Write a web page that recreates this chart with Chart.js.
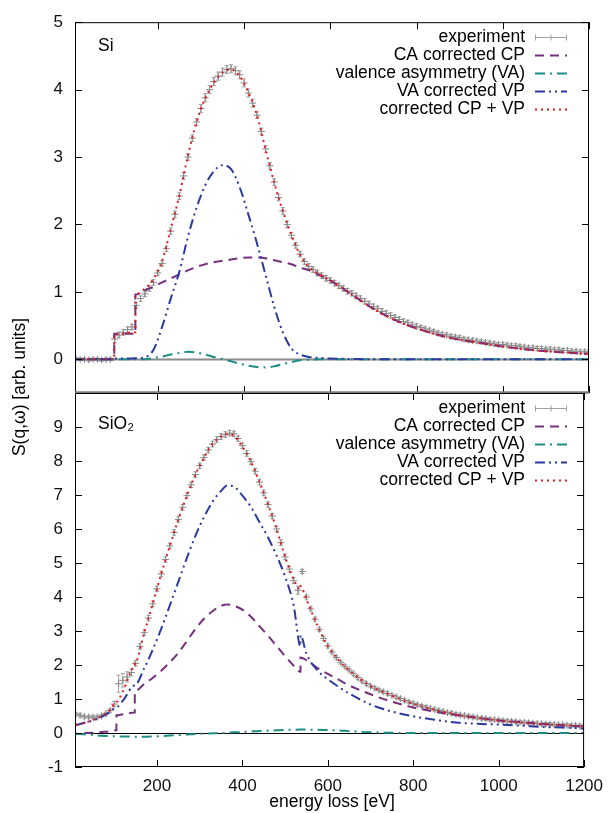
<!DOCTYPE html>
<html>
<head>
<meta charset="utf-8">
<script src="https://cdn.jsdelivr.net/npm/chart.js@4.4.1/dist/chart.umd.min.js"></script>
<style>
  html, body { margin: 0; padding: 0; background: #fff; }
  #wrap { position: relative; width: 612px; height: 813px; }
  canvas { position: absolute; left: 0; top: 0; }
</style>
</head>
<body>
<div id="wrap">
  <canvas id="siChart" width="612" height="813"></canvas>
  <canvas id="sio2Chart" width="612" height="813"></canvas>
</div>
<script>
// --- tick labels ---
const energyTicks = [200, 400, 600, 800, 1000, 1200];
const siTicks = [0, 1, 2, 3, 4, 5];
const sio2Ticks = [-1, 0, 1, 2, 3, 4, 5, 6, 7, 8, 9];
const legendLabels = ['experiment', 'CA corrected CP', 'valence asymmetry (VA)', 'VA corrected VP', 'corrected CP + VP'];

// --- experiment energies (eV) ---
const expEnergy = [
  10, 20, 30, 40, 50, 60, 70, 80, 90, 100,
  110, 120, 130, 140, 150, 160, 170, 180, 190, 200,
  210, 220, 230, 240, 250, 260, 270, 280, 290, 300,
  310, 320, 330, 340, 350, 360, 370, 380, 390, 400,
  410, 420, 430, 440, 450, 460, 470, 480, 490, 500,
  510, 520, 530, 540, 550, 560, 570, 580, 590, 600,
  610, 620, 630, 640, 650, 660, 670, 680, 690, 700,
  710, 720, 730, 740, 750, 760, 770, 780, 790, 800,
  810, 820, 830, 840, 850, 860, 870, 880, 890, 900,
  910, 920, 930, 940, 950, 960, 970, 980, 990, 1000,
  1010, 1020, 1030, 1040, 1050, 1060, 1070, 1080, 1090, 1100,
  1110, 1120, 1130, 1140, 1150, 1160, 1170, 1180, 1190, 1200
];

// --- Si: experiment ---
const siExp = [
  0.01, 0.00, 0.00, -0.01, 0.00, 0.00, -0.01, 0.00, 0.00, 0.30,
  0.36, 0.40, 0.44, 0.48, 0.80, 0.90, 0.97, 1.05, 1.14, 1.28,
  1.42, 1.64, 1.90, 2.15, 2.42, 2.72, 3.00, 3.28, 3.52, 3.72,
  3.88, 4.00, 4.12, 4.20, 4.26, 4.30, 4.31, 4.28, 4.22, 4.10,
  3.95, 3.80, 3.62, 3.38, 3.12, 2.87, 2.63, 2.40, 2.20, 2.00,
  1.84, 1.69, 1.56, 1.45, 1.38, 1.33, 1.28, 1.24, 1.20, 1.17,
  1.13, 1.09, 1.05, 1.01, 0.98, 0.94, 0.90, 0.86, 0.82, 0.78,
  0.75, 0.71, 0.68, 0.65, 0.62, 0.59, 0.56, 0.54, 0.51, 0.49,
  0.47, 0.45, 0.43, 0.41, 0.39, 0.37, 0.36, 0.34, 0.33, 0.32,
  0.30, 0.29, 0.28, 0.27, 0.26, 0.25, 0.24, 0.23, 0.22, 0.22,
  0.21, 0.20, 0.20, 0.19, 0.18, 0.17, 0.17, 0.16, 0.16, 0.15,
  0.15, 0.14, 0.14, 0.13, 0.13, 0.12, 0.12, 0.11, 0.11, 0.11
];
const siExpErr = [
  0.02, 0.02, 0.02, 0.02, 0.02, 0.02, 0.02, 0.02, 0.02, 0.05,
  0.04, 0.04, 0.04, 0.04, 0.04, 0.04, 0.04, 0.04, 0.04, 0.04,
  0.04, 0.04, 0.05, 0.05, 0.05, 0.05, 0.05, 0.05, 0.05, 0.06,
  0.06, 0.06, 0.06, 0.06, 0.06, 0.06, 0.06, 0.06, 0.06, 0.06,
  0.06, 0.06, 0.05, 0.05, 0.05, 0.05, 0.05, 0.05, 0.05, 0.05,
  0.04, 0.04, 0.04, 0.04, 0.04, 0.04, 0.04, 0.04, 0.04, 0.04,
  0.04, 0.04, 0.04, 0.04, 0.04, 0.04, 0.04, 0.04, 0.04, 0.04,
  0.04, 0.04, 0.04, 0.04, 0.04, 0.04, 0.04, 0.04, 0.04, 0.04,
  0.03, 0.03, 0.03, 0.03, 0.03, 0.03, 0.03, 0.03, 0.03, 0.03,
  0.03, 0.03, 0.03, 0.03, 0.03, 0.03, 0.03, 0.03, 0.03, 0.03,
  0.03, 0.03, 0.03, 0.03, 0.03, 0.03, 0.03, 0.03, 0.03, 0.03,
  0.03, 0.03, 0.03, 0.03, 0.03, 0.03, 0.03, 0.03, 0.03, 0.03
];

// --- Si: model curves ---
const siE = [8, 30, 60, 90, 99, 99, 120, 148, 148,
  170, 190, 210, 230, 250, 270, 290, 310, 330, 350, 370, 390, 410, 430, 450, 470, 490, 510, 530, 550,
  575, 600, 650, 700, 750, 800, 850, 900, 950, 1000, 1050, 1100, 1150, 1200];
const siCP = [0, 0, 0, 0, 0, 0.38, 0.38, 0.38, 0.96,
  1.02, 1.08, 1.14, 1.20, 1.26, 1.32, 1.37, 1.41, 1.44, 1.46, 1.48, 1.50, 1.51, 1.51, 1.50, 1.47, 1.44, 1.41, 1.36, 1.32,
  1.25, 1.17, 0.96, 0.75, 0.58, 0.46, 0.36, 0.29, 0.24, 0.19, 0.15, 0.12, 0.10, 0.08];
const siVA = [0, 0, 0, 0, 0, 0, 0, 0, 0,
  0.0, 0.02, 0.04, 0.07, 0.095, 0.11, 0.10, 0.07, 0.035, 0.005, -0.03, -0.065, -0.095, -0.115, -0.12, -0.105, -0.07, -0.04, -0.015, -0.005,
  0, 0, 0, 0, 0, 0, 0, 0, 0, 0, 0, 0, 0, 0];
const siVP = [0, 0, 0, 0, 0.01, 0.01, 0.01, 0.015, 0.015,
  0.03, 0.14, 0.48, 0.90, 1.30, 1.82, 2.25, 2.58, 2.79, 2.88, 2.82, 2.55, 2.15, 1.72, 1.25, 0.78, 0.40, 0.16, 0.07, 0.035,
  0.02, 0.01, 0.005, 0, 0, 0, 0, 0, 0, 0, 0, 0, 0, 0];
const siTotal = [0, 0, 0, 0, 0, 0.37, 0.38, 0.40, 0.96,
  1.05, 1.19, 1.46, 1.93, 2.43, 3.02, 3.52, 3.87, 4.10, 4.25, 4.30, 4.20, 3.96, 3.62, 3.11, 2.62, 2.20, 1.84, 1.55, 1.37,
  1.26, 1.17, 0.96, 0.75, 0.58, 0.46, 0.36, 0.29, 0.24, 0.19, 0.15, 0.12, 0.10, 0.08];

// --- SiO2: experiment ---
const sio2Exp = [
  0.55, 0.52, 0.48, 0.47, 0.47, 0.47, 0.50, 0.56, 0.66, 0.85,
  1.45, 1.55, 1.65, 1.78, 2.05, 2.55, 2.95, 3.38, 3.80, 4.24,
  4.68, 5.10, 5.50, 5.90, 6.28, 6.64, 6.98, 7.30, 7.60, 7.86,
  8.10, 8.32, 8.50, 8.63, 8.72, 8.78, 8.82, 8.80, 8.66, 8.45,
  8.22, 7.98, 7.70, 7.38, 7.06, 6.72, 6.38, 6.00, 5.60, 5.18,
  4.82, 4.48, 4.20, 4.75, 4.00, 3.65, 3.35, 3.05, 2.78, 2.56,
  2.38, 2.22, 2.08, 1.96, 1.85, 1.74, 1.63, 1.53, 1.45, 1.38,
  1.32, 1.26, 1.21, 1.16, 1.11, 1.06, 1.01, 0.96, 0.91, 0.87,
  0.83, 0.79, 0.76, 0.72, 0.69, 0.66, 0.63, 0.60, 0.58, 0.55,
  0.53, 0.51, 0.49, 0.47, 0.45, 0.43, 0.42, 0.40, 0.39, 0.38,
  0.36, 0.35, 0.34, 0.33, 0.32, 0.31, 0.30, 0.29, 0.28, 0.27,
  0.26, 0.26, 0.25, 0.24, 0.24, 0.23, 0.22, 0.22, 0.21, 0.21
];
const sio2ExpErr = [
  0.05, 0.05, 0.05, 0.05, 0.05, 0.05, 0.05, 0.05, 0.05, 0.08,
  0.25, 0.20, 0.15, 0.10, 0.08, 0.08, 0.08, 0.08, 0.08, 0.08,
  0.08, 0.08, 0.08, 0.08, 0.08, 0.08, 0.08, 0.08, 0.08, 0.08,
  0.08, 0.08, 0.08, 0.08, 0.08, 0.08, 0.08, 0.08, 0.08, 0.08,
  0.08, 0.08, 0.08, 0.08, 0.08, 0.08, 0.08, 0.08, 0.08, 0.08,
  0.08, 0.08, 0.12, 0.06, 0.06, 0.06, 0.06, 0.06, 0.06, 0.06,
  0.05, 0.05, 0.05, 0.05, 0.05, 0.05, 0.05, 0.05, 0.05, 0.05,
  0.05, 0.05, 0.05, 0.05, 0.05, 0.05, 0.05, 0.05, 0.05, 0.05,
  0.05, 0.05, 0.05, 0.05, 0.05, 0.05, 0.05, 0.05, 0.05, 0.05,
  0.05, 0.05, 0.05, 0.05, 0.05, 0.05, 0.05, 0.05, 0.05, 0.05,
  0.05, 0.05, 0.05, 0.05, 0.05, 0.05, 0.05, 0.05, 0.05, 0.05,
  0.05, 0.05, 0.05, 0.05, 0.05, 0.05, 0.05, 0.05, 0.05, 0.05
];

// --- SiO2: model curves ---
const sio2E = [10, 30, 50, 70, 90, 105, 105, 120, 148, 148,
  170, 190, 210, 230, 250, 270, 290, 310, 330, 350, 365, 380,
  400, 420, 440, 460, 480, 500, 520, 536, 536,
  550, 575, 600, 625, 650, 700, 750, 800, 850, 900, 950, 1000, 1050, 1100, 1150, 1200];
const sio2CP = [null, 0.0, 0.01, 0.03, 0.05, 0.08, 0.52, 0.55, 0.60, 1.23,
  1.44, 1.62, 1.83, 2.08, 2.36, 2.70, 3.06, 3.36, 3.58, 3.74, 3.78, 3.74,
  3.63, 3.42, 3.14, 2.86, 2.56, 2.26, 1.98, 1.80, 2.22,
  2.14, 1.92, 1.74, 1.57, 1.40, 1.14, 0.92, 0.75, 0.63, 0.53, 0.45, 0.37, 0.32, 0.27, 0.23, 0.19];
const sio2VA = [-0.02, -0.04, -0.06, -0.08, -0.09, -0.10, -0.10, -0.10, -0.11, -0.11,
  -0.11, -0.10, -0.09, -0.075, -0.06, -0.045, -0.03, -0.02, -0.01, 0.0, 0.01, 0.02,
  0.03, 0.045, 0.06, 0.07, 0.08, 0.09, 0.095, 0.10, 0.10,
  0.10, 0.095, 0.085, 0.075, 0.055, 0.02, 0.005, 0, 0, 0, 0, 0, 0, 0, 0, 0];
const sio2VP = [0.23, 0.30, 0.37, 0.48, 0.62, 0.76, 0.76, 0.95, 1.40, 1.40,
  1.90, 2.45, 3.07, 3.75, 4.45, 5.15, 5.80, 6.35, 6.80, 7.12, 7.28, 7.25,
  6.98, 6.65, 6.20, 5.75, 5.22, 4.60, 3.75, 2.55, 2.88,
  2.33, 1.85, 1.58, 1.36, 1.16, 0.84, 0.63, 0.49, 0.39, 0.31, 0.27, 0.25, 0.22, 0.18, 0.16, 0.13];
const sio2Total = [0.24, 0.30, 0.38, 0.50, 0.68, 0.92, 0.92, 1.22, 1.95, 2.05,
  2.95, 3.80, 4.68, 5.50, 6.28, 6.98, 7.60, 8.10, 8.50, 8.72, 8.79, 8.74,
  8.42, 7.98, 7.38, 6.72, 6.00, 5.18, 4.52, 4.22, 4.32,
  3.92, 3.18, 2.55, 2.15, 1.84, 1.38, 1.10, 0.86, 0.68, 0.54, 0.44, 0.37, 0.31, 0.26, 0.23, 0.20];

// --- styles ---
const FONT = '"Liberation Sans", Arial, Helvetica, sans-serif';
const GRAY = '#878787';
const PURPLE = '#76307f';
const TEAL = '#1d8c86';
const BLUE = '#2b3a9e';
const RED = '#e31a1c';

Chart.defaults.font.family = FONT;
Chart.defaults.font.size = 17;
Chart.defaults.color = '#111';

function toPoints(xs, ys) {
  return xs.map((x, i) => ({ x: x, y: ys[i] }));
}

function buildDatasets(exp, expErr, cp, va, vp, total, modelE) {
  return [
    {
      label: legendLabels[0], data: toPoints(expEnergy, exp), errors: expErr,
      showLine: false, pointStyle: 'cross', pointRadius: 3.5, borderWidth: 1,
      borderColor: GRAY, backgroundColor: GRAY, order: 5
    },
    {
      label: legendLabels[1], data: toPoints(modelE, cp), borderColor: PURPLE,
      borderWidth: 2, borderDash: [9, 6], pointRadius: 0, order: 4,
      cubicInterpolationMode: 'monotone'
    },
    {
      label: legendLabels[2], data: toPoints(modelE, va), borderColor: TEAL,
      borderWidth: 2, borderDash: [10, 5, 2, 5], pointRadius: 0, order: 3,
      cubicInterpolationMode: 'monotone'
    },
    {
      label: legendLabels[3], data: toPoints(modelE, vp), borderColor: BLUE,
      borderWidth: 2, borderDash: [10, 4, 2, 4, 2, 4], pointRadius: 0, order: 2,
      cubicInterpolationMode: 'monotone'
    },
    {
      label: legendLabels[4], data: toPoints(modelE, total), borderColor: RED,
      borderWidth: 2, borderDash: [2, 4], pointRadius: 0, order: 1,
      cubicInterpolationMode: 'monotone'
    }
  ];
}

// error bars drawn under the experiment crosses
const errorBarPlugin = {
  id: 'errorBars',
  beforeDatasetDraw(chart, args) {
    const ds = chart.data.datasets[args.index];
    if (!ds.errors) return;
    const { ctx, chartArea: a, scales: { y } } = chart;
    ctx.save();
    ctx.beginPath();
    ctx.rect(a.left, a.top, a.right - a.left, a.bottom - a.top);
    ctx.clip();
    ctx.strokeStyle = '#a0a0a0';
    ctx.lineWidth = 1;
    ctx.beginPath();
    args.meta.data.forEach((pt, j) => {
      const v = ds.data[j].y, e = ds.errors[j];
      const yt = y.getPixelForValue(v + e), yb = y.getPixelForValue(v - e);
      ctx.moveTo(pt.x, yt); ctx.lineTo(pt.x, yb);
      ctx.moveTo(pt.x - 2, yt); ctx.lineTo(pt.x + 2, yt);
      ctx.moveTo(pt.x - 2, yb); ctx.lineTo(pt.x + 2, yb);
    });
    ctx.stroke();
    ctx.restore();
  }
};

// gnuplot-like frame: border, inward ticks on all sides, zero line
const framePlugin = {
  id: 'frame',
  beforeDatasetsDraw(chart, args, opts) {
    const { ctx, chartArea: a, scales: { y } } = chart;
    const y0 = Math.round(y.getPixelForValue(0)) + 0.5;
    ctx.save();
    ctx.strokeStyle = opts.zeroColor;
    ctx.lineWidth = opts.zeroWidth;
    ctx.beginPath();
    ctx.moveTo(a.left, y0);
    ctx.lineTo(a.right, y0);
    ctx.stroke();
    ctx.restore();
  },
  afterDatasetsDraw(chart, args, opts) {
    const { ctx, chartArea: a, scales: { x, y } } = chart;
    const tl = 7;
    ctx.save();
    ctx.strokeStyle = '#000';
    ctx.lineWidth = 1;
    ctx.beginPath();
    ctx.moveTo(a.left + 0.5, a.bottom); ctx.lineTo(a.left + 0.5, a.top + 0.5);
    ctx.lineTo(a.right - 0.5, a.top + 0.5); ctx.lineTo(a.right - 0.5, a.bottom);
    x.ticks.forEach(t => {
      const px = Math.round(x.getPixelForValue(t.value)) + 0.5;
      ctx.moveTo(px, a.top); ctx.lineTo(px, a.top + tl);
      ctx.moveTo(px, a.bottom); ctx.lineTo(px, a.bottom - tl);
    });
    y.ticks.forEach(t => {
      const py = Math.round(y.getPixelForValue(t.value)) + 0.5;
      ctx.moveTo(a.left, py); ctx.lineTo(a.left + tl, py);
      ctx.moveTo(a.right, py); ctx.lineTo(a.right - tl, py);
    });
    ctx.stroke();
    ctx.beginPath();
    ctx.strokeStyle = opts.bottomColor;
    ctx.lineWidth = opts.bottomWidth;
    ctx.moveTo(a.left, a.bottom - 0.5);
    ctx.lineTo(a.right, a.bottom - 0.5);
    ctx.stroke();
    ctx.restore();
  }
};

// key in the upper right corner, samples on the right of the text
const keyPlugin = {
  id: 'key',
  afterDatasetsDraw(chart, args, opts) {
    const { ctx, chartArea: a } = chart;
    ctx.save();
    ctx.font = '17.5px ' + FONT;
    ctx.textAlign = 'right';
    ctx.textBaseline = 'middle';
    chart.data.datasets.forEach((ds, i) => {
      const yy = Math.round(a.top + opts.top + i * opts.step) + 0.5;
      ctx.fillStyle = '#000';
      ctx.fillText(ds.label, opts.textRight, yy);
      const x0 = opts.textRight + 10, x1 = x0 + 32;
      ctx.strokeStyle = ds.errors ? '#a0a0a0' : ds.borderColor;
      ctx.lineWidth = ds.errors ? 1 : ds.borderWidth;
      ctx.setLineDash(ds.errors ? [] : ds.borderDash);
      ctx.beginPath();
      ctx.moveTo(x0, yy); ctx.lineTo(x1, yy);
      if (ds.errors) {
        [x0 + 0.5, (x0 + x1) / 2, x1 - 0.5].forEach(tx => { ctx.moveTo(tx, yy - 3); ctx.lineTo(tx, yy + 3); });
      }
      ctx.stroke();
    });
    ctx.restore();
  }
};

const textPlugin = {
  id: 'texts',
  afterDraw(chart, args, opts) {
    const ctx = chart.ctx;
    ctx.save();
    ctx.fillStyle = '#000';
    ctx.font = '17.5px ' + FONT;
    opts.items.forEach(it => {
      ctx.save();
      ctx.translate(it.x, it.y);
      if (it.rotate) ctx.rotate(it.rotate);
      ctx.textAlign = it.align || 'left';
      ctx.textBaseline = 'middle';
      ctx.fillText(it.text, 0, 0);
      ctx.restore();
    });
    ctx.restore();
  }
};

function makeChart(id, cfg) {
  return new Chart(document.getElementById(id), {
    type: 'line',
    data: { datasets: cfg.datasets },
    plugins: [errorBarPlugin, framePlugin, keyPlugin, textPlugin],
    options: {
      responsive: false,
      animation: false,
      events: [],
      layout: { padding: { left: 0, right: 23, top: cfg.padTop, bottom: cfg.padBottom } },
      scales: {
        x: {
          type: 'linear', min: 8, max: 1200,
          grid: { display: false, drawTicks: false },
          border: { display: false },
          afterBuildTicks: s => { s.ticks = energyTicks.map(v => ({ value: v })); },
          afterFit: s => { s.height = cfg.xHeight; },
          ticks: { display: cfg.xLabels, padding: 9, maxRotation: 0, callback: v => String(v) }
        },
        y: {
          type: 'linear', min: cfg.yMin, max: cfg.yMax,
          grid: { display: false, drawTicks: false },
          border: { display: false },
          afterBuildTicks: s => { s.ticks = cfg.yTicks.map(v => ({ value: v })); },
          afterFit: s => { s.width = 75; },
          ticks: { padding: 12, callback: v => String(v) }
        }
      },
      plugins: {
        legend: { display: false },
        tooltip: { enabled: false },
        frame: cfg.frame,
        key: { top: 14.5, step: 18, textRight: 525 },
        texts: { items: cfg.texts }
      }
    }
  });
}

makeChart('siChart', {
  datasets: buildDatasets(siExp, siExpErr, siCP, siVA, siVP, siTotal, siE),
  padTop: 19, padBottom: 420, xHeight: 0, xLabels: false,
  yMin: -0.5, yMax: 5, yTicks: siTicks,
  frame: { zeroColor: '#8a8a8a', zeroWidth: 2, bottomColor: '#7d7d7d', bottomWidth: 2.5 },
  texts: [
    { text: 'Si', x: 98, y: 46 },
    { text: 'S(q,\u03c9) [arb. units]', x: 20, y: 387, rotate: -Math.PI / 2, align: 'center' }
  ]
});

makeChart('sio2Chart', {
  datasets: buildDatasets(sio2Exp, sio2ExpErr, sio2CP, sio2VA, sio2VP, sio2Total, sio2E),
  padTop: 393, padBottom: 0, xHeight: 46, xLabels: true,
  yMin: -1, yMax: 10, yTicks: sio2Ticks,
  frame: { zeroColor: '#000', zeroWidth: 1, bottomColor: '#000', bottomWidth: 1 },
  texts: [
    { text: 'SiO\u2082', x: 98, y: 424 },
    { text: 'energy loss [eV]', x: 332, y: 802, align: 'center' }
  ]
});
</script>
</body>
</html>
